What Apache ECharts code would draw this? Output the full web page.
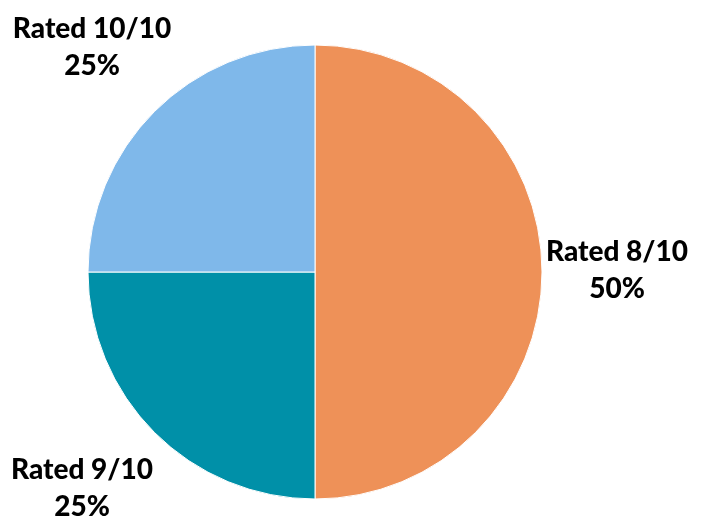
<!DOCTYPE html>
<html><head><meta charset="utf-8">
<script src="https://cdn.jsdelivr.net/npm/echarts@6/dist/echarts.min.js"></script>
<style>html,body{margin:0;padding:0;background:#fff}#c{width:701px;height:519px}</style>
</head><body><div id="c"></div>
<script>
const categories = ['Rated 8/10', 'Rated 9/10', 'Rated 10/10'];
const values = [50, 25, 25];
const colors = ['#EE9158', '#0090A8', '#7FB8EA'];
const labelPos = [[617, 270], [82, 488], [92, 47]];

const chart = echarts.init(document.getElementById('c'));
chart.setOption({
  animation: false,
  series: [{
    type: 'pie',
    center: [315, 272],
    radius: 227,
    startAngle: 90,
    clockwise: true,
    data: categories.map((n, i) => ({name: n, value: values[i], itemStyle: {color: colors[i]}})),
    itemStyle: {borderColor: '#ffffff', borderWidth: 1},
    label: {
      show: true,
      position: 'outside',
      formatter: p => p.name + '\n' + p.value + '%',
      fontFamily: 'Lato',
      fontWeight: 900,
      fontSize: 28,
      lineHeight: 37,
      color: '#000',
      align: 'center',
      overflow: 'none',
      width: 300
    },
    labelLine: {show: false},
    labelLayout: p => ({x: labelPos[p.dataIndex][0], y: labelPos[p.dataIndex][1], align: 'center', verticalAlign: 'middle', hideOverlap: false})
  }]
});
</script></body></html>
